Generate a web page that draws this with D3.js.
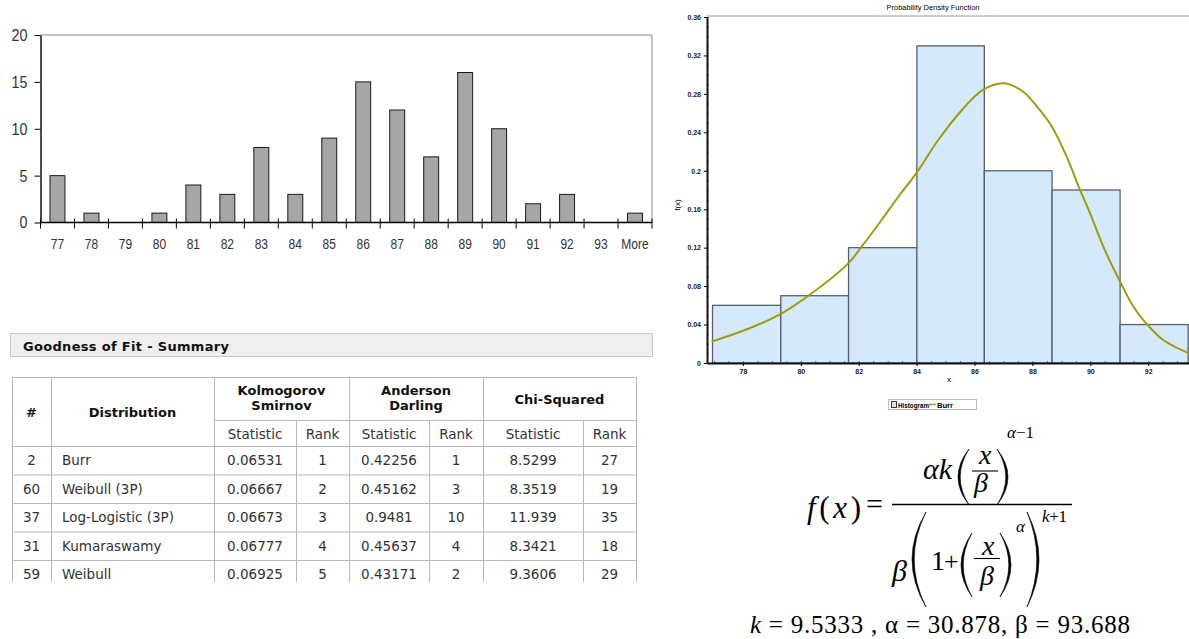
<!DOCTYPE html>
<html>
<head>
<meta charset="utf-8">
<script src="https://cdn.jsdelivr.net/npm/d3@7"></script>
<style>
  body { margin: 0; background: #fff; }
  svg { display: block; }
  .narrow { font-family: "Liberation Sans Narrow", "Arial Narrow", "Liberation Sans", sans-serif; }
  .tbl { font-family: "DejaVu Sans", Verdana, sans-serif; }
  .tiny { font-family: "Liberation Sans", Arial, sans-serif; }
  .math { font-family: "Liberation Serif", "Times New Roman", serif; }
</style>
</head>
<body>
<svg id="chart" width="1189" height="639"></svg>
<script>
'use strict';

// excel frequency histogram
var binLabels = ["77", "78", "79", "80", "81", "82", "83", "84", "85", "86", "87", "88", "89", "90", "91", "92", "93", "More"];
var binCounts = [5, 1, 0, 1, 4, 3, 8, 3, 9, 15, 12, 7, 16, 10, 2, 3, 0, 1];
var countTicks = [0, 5, 10, 15, 20];

// goodness of fit table
var distIds = ["2", "60", "37", "31", "59"];
var distNames = ["Burr", "Weibull (3P)", "Log-Logistic (3P)", "Kumaraswamy", "Weibull"];
var ksStat = ["0.06531", "0.06667", "0.06673", "0.06777", "0.06925"];
var ksRank = ["1", "2", "3", "4", "5"];
var adStat = ["0.42256", "0.45162", "0.9481", "0.45637", "0.43171"];
var adRank = ["1", "3", "10", "4", "2"];
var chiStat = ["8.5299", "8.3519", "11.939", "8.3421", "9.3606"];
var chiRank = ["27", "19", "35", "18", "29"];

// probability density chart
var pdfBinEdges = [76.95, 79.31, 81.65, 84.01, 86.34, 88.68, 91.03, 93.38];
var pdfBinHeights = [0.06, 0.07, 0.12, 0.33, 0.20, 0.18, 0.04];
var burrX = [76.92, 78.07, 79.25, 80.38, 81.64, 82.1, 82.79, 83.37, 83.98, 84.75, 85.56, 86.28, 87.02, 87.69, 88.26, 88.67, 89.18, 89.62, 89.99, 90.45, 91.03, 91.49, 91.93, 92.52, 93.41];
var burrY = [0.0222, 0.0343, 0.05, 0.0725, 0.1037, 0.121, 0.1488, 0.173, 0.197, 0.232, 0.263, 0.284, 0.291, 0.282, 0.263, 0.246, 0.215, 0.182, 0.156, 0.121, 0.0846, 0.0586, 0.0413, 0.0239, 0.0101];
var pdfYTicks = [0, 0.04, 0.08, 0.12, 0.16, 0.2, 0.24, 0.28, 0.32, 0.36];
var pdfXTicks = [78, 80, 82, 84, 86, 88, 90, 92];
var burrParams = ["9.5333", "30.878", "93.688"];

var svg = d3.select("#chart");

// squeeze labels to mimic the narrow excel font
function condense(sel, factor) {
    sel.each(function() {
        var len = this.getComputedTextLength();
        d3.select(this).attr("textLength", len * factor).attr("lengthAdjust", "spacingAndGlyphs");
    });
}

function drawExcelHistogram() {
    var left = 40.5, right = 652, top = 35, bottom = 222.5;
    var xBin = d3.scaleBand().domain(binLabels).range([left, right]);
    var yCnt = d3.scaleLinear().domain([0, 20]).range([bottom, top]);
    var g = svg.append("g").attr("class", "excel narrow");

    g.append("path")
        .attr("d", "M" + left + "," + top + "H" + right + "V" + bottom)
        .attr("fill", "none")
        .attr("stroke", "#8c8c8c");

    var bw = xBin.bandwidth() * 0.44;
    g.selectAll("rect.bar")
        .data(binCounts.map(function(d, i) { return {label: binLabels[i], count: d}; })
            .filter(function(d) { return d.count > 0; }))
        .enter()
        .append("rect")
        .attr("class", "bar")
        .attr("x", function(d) { return xBin(d.label) + (xBin.bandwidth() - bw) / 2; })
        .attr("width", bw)
        .attr("y", function(d) { return yCnt(d.count); })
        .attr("height", function(d) { return yCnt(0) - yCnt(d.count); })
        .attr("fill", "#a6a6a6")
        .attr("stroke", "#1a1a1a")
        .attr("stroke-width", 1);

    var yAxis = g.append("g")
        .attr("transform", "translate(" + left + ",0)")
        .call(d3.axisLeft(yCnt).tickValues(countTicks).tickSize(6).tickSizeOuter(0).tickPadding(7));
    yAxis.select(".domain").attr("stroke", "#000").attr("stroke-width", 1.4);
    yAxis.selectAll(".tick line").attr("stroke", "#000");
    yAxis.selectAll(".tick text").attr("font-size", 17).attr("fill", "#333").attr("font-family", null)
        .call(condense, 0.84);

    // category axis: ticks sit on bin boundaries
    var bounds = binLabels.map(function(d) { return xBin(d); }).concat([right]);
    g.append("line")
        .attr("x1", left).attr("x2", right)
        .attr("y1", bottom).attr("y2", bottom)
        .attr("stroke", "#000").attr("stroke-width", 1.4);
    g.selectAll("line.tk").data(bounds).enter().append("line")
        .attr("class", "tk")
        .attr("x1", function(d) { return d; }).attr("x2", function(d) { return d; })
        .attr("y1", bottom - 4).attr("y2", bottom + 6)
        .attr("stroke", "#000");
    g.selectAll("text.cat").data(binLabels).enter().append("text")
        .attr("class", "cat")
        .attr("x", function(d) { return xBin(d) + xBin.bandwidth() / 2; })
        .attr("y", 249)
        .attr("text-anchor", "middle")
        .attr("font-size", 15)
        .attr("fill", "#333")
        .text(function(d) { return d; })
        .call(condense, 0.8);
}

function drawFitTable() {
    var g = svg.append("g").attr("class", "tbl");
    var cols = [12, 51, 214, 296, 349, 429, 483, 583, 636];
    var top = 377, midHead = 420, headBottom = 446, rowH = 28.5, clipBottom = 582;
    var line = "#b9b9b9";

    // summary header bar
    g.append("rect")
        .attr("x", 10.5).attr("y", 333.5).attr("width", 642).attr("height", 23)
        .attr("fill", "#efefef").attr("stroke", "#c8c8c8");
    g.append("text")
        .attr("x", 23).attr("y", 350.5)
        .attr("font-size", 13).attr("font-weight", "bold").attr("fill", "#111")
        .attr("textLength", 206).attr("lengthAdjust", "spacing")
        .text("Goodness of Fit - Summary");

    svg.append("clipPath").attr("id", "tclip")
        .append("rect").attr("x", 0).attr("y", 0).attr("width", 660).attr("height", clipBottom);
    var t = g.append("g").attr("clip-path", "url(#tclip)");

    var rowCount = distIds.length;
    var tableBottom = headBottom + rowCount * rowH;

    // horizontal rules
    t.append("line").attr("x1", cols[0]).attr("x2", cols[8]).attr("y1", top + 0.5).attr("y2", top + 0.5).attr("stroke", line);
    t.append("line").attr("x1", cols[2]).attr("x2", cols[8]).attr("y1", midHead + 0.5).attr("y2", midHead + 0.5).attr("stroke", line);
    d3.range(rowCount + 1).forEach(function(i) {
        var y = headBottom + i * rowH + 0.5;
        t.append("line").attr("x1", cols[0]).attr("x2", cols[8]).attr("y1", y).attr("y2", y).attr("stroke", line);
    });
    // vertical rules: group borders run full height, sub-columns start below the group title
    cols.forEach(function(x, i) {
        var y1 = (i === 3 || i === 5 || i === 7) ? midHead : top;
        t.append("line").attr("x1", x + 0.5).attr("x2", x + 0.5).attr("y1", y1).attr("y2", tableBottom).attr("stroke", line);
    });

    function cellText(x, y, str, bold, anchor) {
        t.append("text")
            .attr("x", x).attr("y", y)
            .attr("text-anchor", anchor || "middle")
            .attr("font-size", bold ? 13 : 13.5)
            .attr("font-weight", bold ? "bold" : "normal")
            .attr("fill", bold ? "#111" : "#333")
            .text(str);
    }
    function mid(a, b) { return (cols[a] + cols[b]) / 2; }

    cellText(mid(0, 1), 416.5, "#", true);
    cellText(mid(1, 2), 416.5, "Distribution", true);
    cellText(mid(2, 4), 394.5, "Kolmogorov", true);
    cellText(mid(2, 4), 409.5, "Smirnov", true);
    cellText(mid(4, 6), 394.5, "Anderson", true);
    cellText(mid(4, 6), 409.5, "Darling", true);
    cellText(mid(6, 8), 403.5, "Chi-Squared", true);
    [2, 4, 6].forEach(function(c) {
        cellText(mid(c, c + 1), 438.5, "Statistic", false);
        cellText(mid(c + 1, c + 2), 438.5, "Rank", false);
    });

    distIds.forEach(function(id, i) {
        var y = headBottom + i * rowH + rowH / 2 + 5;
        cellText(mid(0, 1), y, id, false);
        cellText(cols[1] + 11, y, distNames[i], false, "start");
        cellText(mid(2, 3), y, ksStat[i], false);
        cellText(mid(3, 4), y, ksRank[i], false);
        cellText(mid(4, 5), y, adStat[i], false);
        cellText(mid(5, 6), y, adRank[i], false);
        cellText(mid(6, 7), y, chiStat[i], false);
        cellText(mid(7, 8), y, chiRank[i], false);
    });
}

function drawPdfChart() {
    var left = 707, right = 1189, top = 16, bottom = 363;
    var x = d3.scaleLinear().domain([76.76, 93.41]).range([left, right]);
    var y = d3.scaleLinear().domain([0, 0.36]).range([bottom, 17]);
    var g = svg.append("g").attr("class", "tiny");

    g.append("text")
        .attr("x", 933).attr("y", 10)
        .attr("text-anchor", "middle").attr("font-size", 7.5)
        .text("Probability Density Function");

    g.append("line").attr("x1", left).attr("x2", right).attr("y1", top).attr("y2", top)
        .attr("stroke", "#999");

    var bins = pdfBinHeights.map(function(h, i) {
        return {x0: pdfBinEdges[i], x1: pdfBinEdges[i + 1], h: h};
    });
    g.selectAll("rect.bin").data(bins).enter().append("rect")
        .attr("class", "bin")
        .attr("x", function(d) { return x(d.x0); })
        .attr("width", function(d) { return x(d.x1) - x(d.x0); })
        .attr("y", function(d) { return y(d.h); })
        .attr("height", function(d) { return y(0) - y(d.h); })
        .attr("fill", "#d4e9fc")
        .attr("stroke", "#56606a")
        .attr("stroke-width", 1.3);

    svg.append("clipPath").attr("id", "pclip")
        .append("rect").attr("x", left).attr("y", top).attr("width", right - left).attr("height", bottom - top);
    var curve = d3.line()
        .x(function(d) { return x(d[0]); })
        .y(function(d) { return y(d[1]); })
        .curve(d3.curveCatmullRom);
    g.append("path")
        .attr("clip-path", "url(#pclip)")
        .attr("d", curve(d3.zip(burrX, burrY)))
        .attr("fill", "none")
        .attr("stroke", "#a09b0c")
        .attr("stroke-width", 2);

    // minor ticks first, then the labelled axis on top
    var yMinor = d3.range(0, 0.3601, 0.01);
    var xMinor = d3.range(77, 93.01, 0.5);
    g.append("g").attr("transform", "translate(" + left + ",0)")
        .call(d3.axisLeft(y).tickValues(yMinor).tickSize(-2).tickFormat(""))
        .call(function(a) { a.select(".domain").remove(); a.selectAll("line").attr("stroke", "#666"); });
    g.append("g").attr("transform", "translate(0," + bottom + ")")
        .call(d3.axisBottom(x).tickValues(xMinor).tickSize(-2).tickFormat(""))
        .call(function(a) { a.select(".domain").remove(); a.selectAll("line").attr("stroke", "#666"); });

    var ya = g.append("g").attr("transform", "translate(" + left + ",0)")
        .call(d3.axisLeft(y).tickValues(pdfYTicks).tickSize(3).tickSizeOuter(0).tickPadding(3)
            .tickFormat(function(d) { return String(d); }));
    var xa = g.append("g").attr("transform", "translate(0," + bottom + ")")
        .call(d3.axisBottom(x).tickValues(pdfXTicks).tickSize(3).tickSizeOuter(0).tickPadding(3)
            .tickFormat(function(d) { return String(d); }));
    [ya, xa].forEach(function(a) {
        a.select(".domain").attr("stroke", "#111").attr("stroke-width", 2);
        a.selectAll(".tick text").attr("font-size", 7).attr("font-weight", "bold")
            .attr("font-family", null).attr("fill", "#222");
    });

    g.append("text")
        .attr("transform", "translate(680,205) rotate(-90)")
        .attr("text-anchor", "middle").attr("font-size", 8)
        .text("f(x)");
    g.append("text")
        .attr("x", 949).attr("y", 382)
        .attr("text-anchor", "middle").attr("font-size", 8)
        .text("x");

    // legend
    var lg = g.append("g").attr("transform", "translate(888,399)");
    lg.append("rect").attr("x", 0.5).attr("y", 0.5).attr("width", 88).attr("height", 10)
        .attr("fill", "#fff").attr("stroke", "#bdbdbd");
    lg.append("rect").attr("x", 3.5).attr("y", 2.5).attr("width", 5).attr("height", 6)
        .attr("fill", "#d4e9fc").attr("stroke", "#333");
    lg.append("text").attr("x", 10).attr("y", 8.5).attr("font-size", 7.5).attr("font-weight", "bold")
        .attr("textLength", 31).attr("lengthAdjust", "spacingAndGlyphs").text("Histogram");
    lg.append("line").attr("x1", 41).attr("x2", 48).attr("y1", 5.5).attr("y2", 5.5)
        .attr("stroke", "#a09b0c").attr("stroke-width", 1.5);
    lg.append("text").attr("x", 49).attr("y", 8.5).attr("font-size", 7.5).attr("font-weight", "bold")
        .attr("textLength", 16).attr("lengthAdjust", "spacingAndGlyphs").text("Burr");
}

function paren(g, xMid, xEnd, y0, y1) {
    // crescent shaped bracket, xMid is the bulge, xEnd the tips
    var m = (y0 + y1) / 2;
    var dir = xEnd > xMid ? 1 : -1;
    var c1 = 2 * xMid - xEnd;
    var c2 = 2 * (xMid + dir * 2.2) - xEnd;
    g.append("path")
        .attr("d", "M" + xEnd + "," + y0 + "Q" + c1 + "," + m + " " + xEnd + "," + y1 +
            "Q" + c2 + "," + m + " " + xEnd + "," + y0 + "Z")
        .attr("fill", "#000").attr("stroke", "#000").attr("stroke-width", 0.6);
}

function drawFormula() {
    var g = svg.append("g").attr("class", "math");

    function txt(x, y, size, parts, len) {
        var t = g.append("text").attr("x", x).attr("y", y).attr("font-size", size);
        if (len) { t.attr("textLength", len).attr("lengthAdjust", "spacing"); }
        parts.forEach(function(p) {
            t.append("tspan").attr("font-style", p[1] ? "italic" : "normal").text(p[0]);
        });
        return t;
    }
    function bar(x1, x2, y, w) {
        g.append("line").attr("x1", x1).attr("x2", x2).attr("y1", y).attr("y2", y)
            .attr("stroke", "#000").attr("stroke-width", w);
    }

    txt(807, 518, 31, [["f", 1], ["(", 0], ["x", 1], [")", 0]], 54);
    txt(866, 514, 30, [["=", 0]]);
    bar(892, 1072, 504.5, 1.4);

    // numerator
    txt(923, 479, 30, [["\u03b1k", 1]], 29);
    paren(g, 958, 969, 449, 505);
    txt(979, 464, 28, [["x", 1]]);
    bar(972, 998, 471, 1.1);
    txt(974, 492, 28, [["\u03b2", 1]]);
    paren(g, 1008, 997, 449, 505);
    txt(1007, 438, 17, [["\u03b1", 1], ["\u22121", 0]]);

    // denominator
    txt(892, 581, 30, [["\u03b2", 1]]);
    paren(g, 912, 926, 512, 607);
    txt(931, 570, 28, [["1", 0]]);
    txt(944, 570, 26, [["+", 0]]);
    paren(g, 961, 972, 533, 597);
    txt(982, 555, 28, [["x", 1]]);
    bar(974, 1000, 558.5, 1.1);
    txt(980, 585, 28, [["\u03b2", 1]]);
    paren(g, 1011, 1000, 533, 597);
    txt(1016, 532, 17, [["\u03b1", 1]]);
    paren(g, 1039, 1027, 512, 607);
    txt(1042, 522, 17, [["k", 1], ["+1", 0]], 25);

    txt(750, 633, 25, [["k", 1], [" = " + burrParams[0] + " , \u03b1 = " + burrParams[1] + ", \u03b2 = " + burrParams[2], 0]], 380);
}

drawExcelHistogram();
drawFitTable();
drawPdfChart();
drawFormula();
</script>
</body>
</html>
